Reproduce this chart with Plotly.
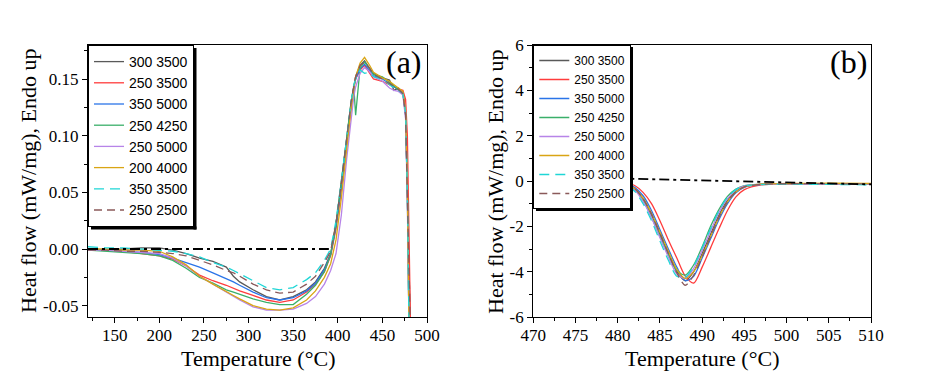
import plotly.graph_objects as go

# ---------------- data ----------------
series_names = ["300 3500", "250 3500", "350 5000", "250 4250",
                "250 5000", "200 4000", "350 3500", "250 2500"]
series_colors = ["#595959", "#ff3c3c", "#2a74e8", "#3aaf6a",
                 "#b784e8", "#d9a514", "#1fd6d6", "#8a5a5a"]
series_dash = ["solid", "solid", "solid", "solid",
               "solid", "solid", "10px,6px", "8px,5px"]

# Panel (a): temperature grid (°C)
T_a = [120, 140, 160, 180, 200, 215, 230, 245, 260, 275, 283, 290, 305, 320,
       335, 350, 365, 375, 385, 392, 398, 404, 410, 415, 418, 420, 425, 430,
       435, 440, 450, 458, 463, 468, 473, 476, 478, 480, 482]

a_300_3500 = [0.000, -0.001, 0.000, 0.001, 0.001, -0.001, -0.004, -0.008, -0.011, -0.016,
              -0.024, -0.029, -0.036, -0.042, -0.045, -0.042, -0.036, -0.029, -0.017, -0.004,
              0.022, 0.058, 0.098, 0.130, 0.145, 0.152, 0.162, 0.166, 0.160, 0.155,
              0.151, 0.149, 0.140, 0.142, 0.138, 0.120, 0.050, -0.080, -0.090]
a_250_3500 = [0.000, -0.001, -0.002, -0.004, -0.006, -0.009, -0.015, -0.023, -0.028, -0.032,
              -0.035, -0.037, -0.041, -0.045, -0.047, -0.045, -0.038, -0.031, -0.020, -0.006,
              0.018, 0.052, 0.094, 0.127, 0.142, 0.150, 0.158, 0.162, 0.156, 0.150,
              0.148, 0.145, 0.143, 0.141, 0.140, 0.132, 0.100, 0.020, -0.090]
a_350_5000 = [0.000, -0.001, -0.002, -0.003, -0.005, -0.008, -0.012, -0.016, -0.021, -0.026,
              -0.029, -0.032, -0.038, -0.043, -0.045, -0.043, -0.037, -0.030, -0.018, -0.005,
              0.020, 0.055, 0.096, 0.128, 0.143, 0.150, 0.159, 0.163, 0.158, 0.153,
              0.150, 0.146, 0.143, 0.141, 0.138, 0.120, 0.050, -0.080, -0.090]
a_250_4250 = [-0.001, -0.002, -0.003, -0.004, -0.006, -0.010, -0.017, -0.025, -0.030, -0.036,
              -0.038, -0.040, -0.044, -0.047, -0.049, -0.049, -0.040, -0.032, -0.020, -0.005,
              0.022, 0.058, 0.098, 0.130, 0.143, 0.118, 0.160, 0.165, 0.160, 0.154,
              0.152, 0.147, 0.144, 0.140, 0.137, 0.118, 0.048, -0.080, -0.090]
a_250_5000 = [-0.001, -0.001, -0.002, -0.003, -0.004, -0.008, -0.015, -0.024, -0.031, -0.038,
              -0.042, -0.045, -0.051, -0.054, -0.054, -0.053, -0.048, -0.042, -0.031, -0.019,
              -0.004, 0.030, 0.080, 0.118, 0.135, 0.143, 0.155, 0.160, 0.157, 0.152,
              0.148, 0.142, 0.140, 0.139, 0.136, 0.115, 0.040, -0.080, -0.090]
a_200_4000 = [0.000, 0.000, -0.001, -0.001, -0.002, -0.007, -0.014, -0.024, -0.031, -0.038,
              -0.041, -0.044, -0.050, -0.053, -0.054, -0.052, -0.045, -0.037, -0.025, -0.013,
              0.008, 0.045, 0.090, 0.125, 0.142, 0.152, 0.164, 0.169, 0.163, 0.156,
              0.151, 0.148, 0.145, 0.142, 0.139, 0.122, 0.055, -0.080, -0.090]
a_350_3500 = [0.002, 0.001, 0.001, 0.000, -0.001, -0.002, -0.004, -0.007, -0.012, -0.016,
              -0.019, -0.022, -0.028, -0.034, -0.036, -0.034, -0.027, -0.021, -0.010, 0.000,
              0.025, 0.060, 0.100, 0.130, 0.145, 0.150, 0.158, 0.155, 0.156, 0.152,
              0.150, 0.145, 0.142, 0.140, 0.137, 0.120, 0.050, -0.080, -0.090]
a_250_2500 = [-0.001, -0.001, -0.002, -0.002, -0.003, -0.004, -0.006, -0.010, -0.014, -0.019,
              -0.021, -0.024, -0.031, -0.036, -0.039, -0.038, -0.031, -0.024, -0.012, -0.002,
              0.023, 0.058, 0.099, 0.130, 0.144, 0.152, 0.162, 0.165, 0.160, 0.154,
              0.150, 0.146, 0.143, 0.141, 0.137, 0.118, 0.045, -0.080, -0.090]
series_a = [a_300_3500, a_250_3500, a_350_5000, a_250_4250,
            a_250_5000, a_200_4000, a_350_3500, a_250_2500]

# Panel (a) baseline (dash-dot)
base_a_T = [120, 390]
base_a_v = [0.0, 0.0]

# Panel (b): temperature grid (°C)
T_b = [470, 476, 479, 480.5, 482, 483, 484, 485, 486, 487, 488, 489, 490, 491,
       492, 493, 494, 495, 497, 500, 505, 510]

b_300_3500 = [0.15, 0.12, 0.05, -0.08, -0.35, -0.80, -1.50, -2.35, -3.20, -4.00, -4.40,
              -4.00, -3.20, -2.35, -1.50, -0.85, -0.45, -0.25, -0.15, -0.12, -0.12, -0.13]
b_250_3500 = [0.15, 0.12, 0.07, 0.00, -0.20, -0.50, -1.00, -1.75, -2.60, -3.40, -4.20,
              -4.50, -3.80, -2.95, -2.10, -1.30, -0.70, -0.38, -0.17, -0.13, -0.12, -0.13]
b_350_5000 = [0.15, 0.12, 0.06, -0.05, -0.28, -0.65, -1.30, -2.15, -3.00, -3.80, -4.40,
              -4.20, -3.40, -2.55, -1.70, -1.00, -0.52, -0.28, -0.15, -0.12, -0.12, -0.13]
b_250_4250 = [0.15, 0.12, 0.05, -0.09, -0.38, -0.85, -1.60, -2.45, -3.25, -3.95, -4.15,
              -3.70, -2.90, -2.00, -1.25, -0.68, -0.36, -0.20, -0.14, -0.12, -0.12, -0.13]
b_250_5000 = [0.15, 0.12, 0.04, -0.10, -0.40, -0.90, -1.62, -2.50, -3.35, -4.10, -4.30,
              -3.85, -3.05, -2.20, -1.38, -0.78, -0.40, -0.22, -0.15, -0.13, -0.13, -0.14]
b_200_4000 = [0.15, 0.12, 0.05, -0.07, -0.33, -0.75, -1.42, -2.25, -3.10, -3.90, -4.30,
              -4.00, -3.30, -2.45, -1.60, -0.92, -0.48, -0.26, -0.14, -0.11, -0.10, -0.11]
b_350_3500 = [0.15, 0.12, 0.04, -0.11, -0.45, -1.00, -1.75, -2.65, -3.50, -4.20, -4.25,
              -3.75, -2.95, -2.10, -1.30, -0.72, -0.38, -0.22, -0.16, -0.14, -0.15, -0.17]
b_250_2500 = [0.15, 0.12, 0.05, -0.07, -0.33, -0.78, -1.45, -2.30, -3.20, -4.05, -4.60,
              -4.15, -3.35, -2.45, -1.60, -0.92, -0.48, -0.26, -0.15, -0.12, -0.12, -0.13]
series_b = [b_300_3500, b_250_3500, b_350_5000, b_250_4250,
            b_250_5000, b_200_4000, b_350_3500, b_250_2500]

# Panel (b) baseline (dash-dot)
base_b_T = [470, 510]
base_b_v = [0.20, -0.15]

# Tick labels
ya_tickvals = [-0.05, 0.0, 0.05, 0.10, 0.15]
ya_ticktext = ["-0.05", "0.00", "0.05", "0.10", "0.15"]
yb_tickvals = [-6, -4, -2, 0, 2, 4, 6]
yb_ticktext = ["-6", "-4", "-2", "0", "2", "4", "6"]

x_title = "Temperature (°C)"
y_title = "Heat flow (mW/mg), Endo up"

# ---------------- figure ----------------
# the page body has an 8 px margin; size the figure to fill the window exactly
OFF = 8
W, H = 940 - OFF, 381 - OFF
SERIF = "Liberation Serif"
SANS = "Liberation Sans"


def px2x(X):
    return (X - OFF) / W


def px2y(Y):
    return 1 - (Y - OFF) / H


fig = go.Figure()

for name, vals, col, dsh in zip(series_names, series_a, series_colors, series_dash):
    fig.add_trace(go.Scatter(x=T_a, y=vals, mode="lines", name=name,
                             line=dict(color=col, width=1.3, dash=dsh),
                             xaxis="x", yaxis="y", legend="legend"))
fig.add_trace(go.Scatter(x=base_a_T, y=base_a_v, mode="lines", showlegend=False,
                         line=dict(color="black", width=1.8, dash="10px,4px,3px,4px"),
                         xaxis="x", yaxis="y"))

for name, vals, col, dsh in zip(series_names, series_b, series_colors, series_dash):
    fig.add_trace(go.Scatter(x=T_b, y=vals, mode="lines", name=name,
                             line=dict(color=col, width=1.3, dash=dsh, shape="spline",
                                       smoothing=0.8),
                             xaxis="x2", yaxis="y2", legend="legend2"))
fig.add_trace(go.Scatter(x=base_b_T, y=base_b_v, mode="lines", showlegend=False,
                         line=dict(color="black", width=1.8, dash="10px,4px,3px,4px"),
                         xaxis="x2", yaxis="y2"))

ax_common = dict(showline=True, linecolor="black", linewidth=1.3, mirror=True,
                 ticks="outside", ticklen=5, tickwidth=1.2, tickcolor="black",
                 showgrid=False, zeroline=False, automargin=False,
                 tickfont=dict(family=SERIF, size=17, color="black"))

xa0, xa1 = px2x(88), px2x(427)
xb0, xb1 = px2x(533.3), px2x(871)
y0, y1 = px2y(317), px2y(45)


def px_rect(x0p, y0p, x1p, y1p):
    return dict(type="rect", xref="paper", yref="paper",
                x0=px2x(x0p), x1=px2x(x1p), y0=px2y(y1p), y1=px2y(y0p),
                fillcolor="black", line=dict(width=0), layer="above")


# legend drop-shadow strips (right and bottom of each legend box)
shadow_shapes = [
    px_rect(193.5, 48, 196.5, 229.5), px_rect(91, 226.5, 196.5, 229.5),
    px_rect(630, 47, 633, 211), px_rect(536, 208, 633, 211),
]

fig.update_layout(
    width=W, height=H, autosize=False,
    margin=dict(l=0, r=0, t=0, b=0, autoexpand=False),
    paper_bgcolor="white", plot_bgcolor="white",
    xaxis=dict(domain=[xa0, xa1], range=[120, 500], dtick=50, tick0=0,
               ticklabelstandoff=-3,
               minor=dict(ticks="outside", ticklen=3, dtick=25, tick0=0,
                          tickcolor="black"),
               anchor="y", **ax_common),
    yaxis=dict(domain=[y0, y1], range=[-0.06, 0.18], tickmode="array",
               tickvals=ya_tickvals, ticktext=ya_ticktext,
               minor=dict(ticks="outside", ticklen=3, dtick=0.025, tick0=0,
                          tickcolor="black"),
               anchor="x", **ax_common),
    xaxis2=dict(domain=[xb0, xb1], range=[470, 510], dtick=5, tick0=0,
                ticklabelstandoff=-3,
                minor=dict(ticks="outside", ticklen=3, dtick=2.5, tick0=0,
                           tickcolor="black"),
                anchor="y2", **ax_common),
    yaxis2=dict(domain=[y0, y1], range=[-6, 6], tickmode="array",
                tickvals=yb_tickvals, ticktext=yb_ticktext,
                minor=dict(ticks="outside", ticklen=3, dtick=1, tick0=0,
                           tickcolor="black"),
                anchor="x2", **ax_common),
    legend=dict(x=xa0, y=y1, xanchor="left", yanchor="top",
                bgcolor="white", bordercolor="black", borderwidth=1,
                font=dict(family=SANS, size=14, color="black"),
                tracegroupgap=0, itemwidth=30),
    legend2=dict(x=xb0, y=y1, xanchor="left", yanchor="top",
                 bgcolor="white", bordercolor="black", borderwidth=1,
                 font=dict(family=SANS, size=12, color="black"),
                 tracegroupgap=0, itemwidth=30),
    shapes=shadow_shapes,
    annotations=[
        dict(text="(a)", x=px2x(404), y=px2y(62), xref="paper", yref="paper",
             showarrow=False, xanchor="center", yanchor="middle",
             font=dict(family=SERIF, size=32, color="black")),
        dict(text="(b)", x=px2x(848), y=px2y(62), xref="paper", yref="paper",
             showarrow=False, xanchor="center", yanchor="middle",
             font=dict(family=SERIF, size=32, color="black")),
        dict(text=x_title, x=(xa0 + xa1) / 2, y=px2y(358), xref="paper", yref="paper",
             showarrow=False, xanchor="center", yanchor="middle",
             font=dict(family=SERIF, size=22, color="black")),
        dict(text=x_title, x=(xb0 + xb1) / 2, y=px2y(358), xref="paper", yref="paper",
             showarrow=False, xanchor="center", yanchor="middle",
             font=dict(family=SERIF, size=22, color="black")),
        dict(text=y_title, x=px2x(28), y=(y0 + y1) / 2, xref="paper", yref="paper",
             showarrow=False, xanchor="center", yanchor="middle", textangle=-90,
             font=dict(family=SERIF, size=22, color="black")),
        dict(text=y_title, x=px2x(495), y=(y0 + y1) / 2, xref="paper", yref="paper",
             showarrow=False, xanchor="center", yanchor="middle", textangle=-90,
             font=dict(family=SERIF, size=22, color="black")),
    ],
)

fig.write_html("out.html")
